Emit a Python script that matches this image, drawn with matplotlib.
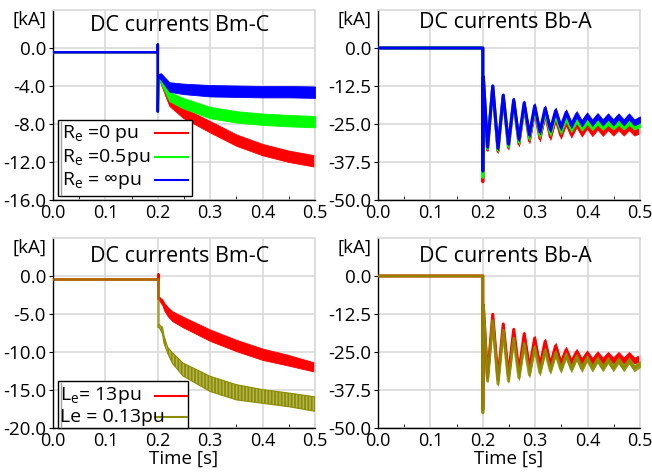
import numpy as np
import matplotlib
matplotlib.use("Agg")
import matplotlib.pyplot as plt
from matplotlib.lines import Line2D
from matplotlib.patches import Rectangle
from matplotlib.ticker import FormatStrFormatter, MultipleLocator

plt.rcParams["font.family"] = ["Open Sans", "DejaVu Sans"]
plt.rcParams["axes.unicode_minus"] = False
plt.rcParams["hatch.linewidth"] = 1.3

# ---- Bm-C, earth resistance cases (top left) ----
# pre-fault level and the spike at the fault instant
pre_t = [0.0, 0.2, 0.2, 0.2, 0.201]
pre_re = [-0.45, -0.45, 0.35, -6.7, -2.9]
# post-fault ripple bands: centre and half width
t_re = [0.201, 0.206, 0.222, 0.248, 0.3, 0.35, 0.4, 0.45, 0.5]
re_inf = [-2.9, -3.0, -4.1, -4.3, -4.5, -4.55, -4.6, -4.6, -4.65]
re_05 = [-2.9, -3.4, -5.1, -5.8, -6.8, -7.25, -7.5, -7.65, -7.75]
re_0 = [-2.9, -3.5, -5.6, -6.8, -8.3, -9.7, -10.7, -11.4, -11.9]
hw_re = [0.15, 0.35, 0.5, 0.55, 0.6, 0.6, 0.6, 0.6, 0.6]

# ---- Bm-C, earth inductance cases (bottom left) ----
pre_le13 = [-0.45, -0.45, 0.2, -2.9, -2.9]
pre_le013 = [-0.45, -0.45, -0.45, -6.6, -6.6]
t_le = [0.201, 0.203, 0.209, 0.212, 0.219, 0.228, 0.248, 0.3, 0.35, 0.4, 0.45, 0.5]
le13 = [-2.9, -3.0, -3.5, -4.0, -4.7, -5.3, -6.05, -7.8, -9.15, -10.3, -11.1, -12.0]
hw_le13 = [0.15, 0.25, 0.4, 0.5, 0.6, 0.65, 0.7, 0.75, 0.75, 0.75, 0.7, 0.6]
le013 = [-6.6, -6.6, -7.2, -8.4, -9.8, -10.8, -12.3, -14.2, -15.3, -15.85, -16.3, -16.85]
hw_le013 = [0.2, 0.2, 0.45, 0.5, 0.4, 0.7, 0.85, 1.0, 1.0, 0.9, 0.9, 0.95]

# ---- Bb-A, peaks and troughs of the oscillation ----
t_bb = [0.0, 0.2, 0.2, 0.201, 0.209, 0.219, 0.229, 0.239, 0.249, 0.259,
        0.269, 0.279, 0.289, 0.299, 0.309, 0.319, 0.329, 0.339, 0.349, 0.359,
        0.369, 0.379, 0.389, 0.399, 0.409, 0.419, 0.429, 0.439, 0.449, 0.459,
        0.469, 0.479, 0.489, 0.5]
bb_inf = [0, 0, -40.5, -9.5, -32.5, -12.5, -33, -15.5, -31.5, -17, -30, -18,
          -28.5, -19, -27.5, -19.8, -26.8, -20.6, -26, -21.2, -25.3, -21.8,
          -24.8, -22.2, -24.6, -22.4, -24.5, -22.5, -24.5, -22.5, -24.5, -22.5,
          -24.5, -23.5]
bb_05 = [0, 0, -42.5, -9.5, -33, -12.5, -33.6, -15.6, -32.3, -17.3, -30.9,
         -18.5, -29.6, -19.8, -28.7, -20.8, -28, -22, -27.3, -23, -26.6, -23.6,
         -26.2, -24, -26, -24.2, -25.9, -24.3, -25.8, -24.3, -25.8, -24.3,
         -25.8, -25]
bb_0 = [0, 0, -44, -9.6, -33.5, -12.6, -34, -15.8, -32.8, -17.6, -31.6, -19,
        -30.5, -20.5, -29.8, -21.5, -29.3, -23, -28.8, -24.3, -28.4, -25,
        -28.1, -25.5, -28, -25.8, -27.9, -26, -27.8, -26, -27.8, -26, -27.8, -27]
bb_le013 = [0, 0, -45, -10, -34.5, -14.7, -35.5, -17.9, -34.5, -20.6, -33.5,
            -22.3, -32.5, -23.5, -31.8, -24.5, -31.2, -25.3, -30.8, -26, -30.6,
            -26.6, -30.5, -27, -30.4, -27.4, -30.3, -27.6, -30.3, -27.7, -30.3,
            -27.8, -30.3, -29]
hw_bb = [0, 0, 0, 0.3, 0.4, 0.4, 0.5, 0.5, 0.6, 0.6, 0.7, 0.7, 0.8, 0.8, 0.9,
         0.9, 0.9, 1.0, 1.0, 1.0, 1.0, 1.0, 1.0, 1.0, 1.0, 1.0, 1.0, 1.0, 1.0,
         1.0, 1.0, 1.0, 1.0, 1.0]

xticks = [0.0, 0.1, 0.2, 0.3, 0.4, 0.5]
yticks_re = [0.0, -4.0, -8.0, -12.0, -16.0]
yticks_le = [0.0, -5.0, -10.0, -15.0, -20.0]
yticks_bb = [0.0, -12.5, -25.0, -37.5, -50.0]

labels_re = [r"R$_\mathregular{e}$ =0 pu", r"R$_\mathregular{e}$ =0.5pu",
             r"R$_\mathregular{e}$ = ∞pu"]
labels_le = [r"L$_\mathregular{e}$= 13pu", "Le = 0.13pu"]

RED, GREEN, BLUE, OLIVE = "#ff0000", "#00ff00", "#0000ff", "#8c8c00"
GRID = "#d9d9d9"

W, H = 652, 475
fig = plt.figure(figsize=(W / 100, H / 100), dpi=100)


def fx(px):
    return px / W


def fy(py):
    return 1 - py / H


def add_ax(left, top, right, bottom):
    return fig.add_axes([fx(left), fy(bottom), (right - left) / W, (bottom - top) / H])


def style(ax, ylim, yticks, title, title_y, xlabel=None):
    ax.set_xlim(0, 0.5)
    ax.set_ylim(*ylim)
    ax.set_xticks(xticks)
    ax.set_yticks(yticks)
    ax.xaxis.set_minor_locator(MultipleLocator(0.05))
    ax.xaxis.set_major_formatter(FormatStrFormatter("%.1f"))
    ax.yaxis.set_major_formatter(FormatStrFormatter("%.1f"))
    ax.grid(True, color=GRID, lw=1.2)
    ax.set_axisbelow(True)
    for s in ("top", "right"):
        ax.spines[s].set_color(GRID)
        ax.spines[s].set_linewidth(1.2)
    for s in ("left", "bottom"):
        ax.spines[s].set_color("black")
        ax.spines[s].set_linewidth(1.0)
    ax.tick_params(axis="y", direction="out", length=3, labelsize=13.5, pad=2)
    ax.tick_params(axis="x", which="major", length=0, labelsize=13, pad=3)
    ax.tick_params(axis="x", which="minor", direction="in", length=3)
    ax.text(0.485, title_y, title, transform=ax.transAxes, ha="center",
            va="center", fontsize=15.5)
    ax.text(-0.023, 0.947, "[kA]", transform=ax.transAxes, ha="right",
            va="center", fontsize=13.5)
    if xlabel:
        ax.set_xlabel(xlabel, fontsize=13.5, labelpad=0)


def band(ax, t, mid, hw, color, z, alpha=1.0, hatch=None):
    mid = np.asarray(mid, float)
    hw = np.asarray(hw, float)
    if hatch:
        ax.fill_between(t, mid - hw, mid + hw, facecolor="#b4b45a",
                        edgecolor=color, hatch=hatch, lw=0.8, zorder=z)
    else:
        ax.fill_between(t, mid - hw, mid + hw, color=color, lw=0.6,
                        zorder=z, alpha=alpha)


def wave(ax, t, v, hw, color, z, alpha=1.0):
    ax.plot(t, v, color=color, lw=2.2, zorder=z, alpha=alpha,
            solid_joinstyle="round")
    band(ax, t, v, hw, color, z, alpha)


def box_legend(box, rows, labels, colors, text_x, line_x):
    left, top, right, bottom = box
    fig.add_artist(Rectangle((fx(left), fy(bottom)), (right - left) / W,
                             (bottom - top) / H, transform=fig.transFigure,
                             facecolor="white", edgecolor="black", lw=1.0,
                             zorder=10))
    fig.add_artist(Line2D([fx(left + 2.5)] * 2, [fy(bottom - 1), fy(top + 2)],
                          color="#a0a0a0", lw=1.0, zorder=11))
    for y, lab, c in zip(rows, labels, colors):
        fig.text(fx(text_x), fy(y), lab, ha="left", va="center",
                 fontsize=14, zorder=12)
        fig.add_artist(Line2D([fx(line_x[0]), fx(line_x[1])], [fy(y), fy(y)],
                              color=c, lw=1.5, zorder=12))


# top left
ax = add_ax(53, 10, 315, 200)
style(ax, (-16, 4), yticks_re, "DC currents Bm-C", 0.92)
for vals, c, z in ((re_0, RED, 2), (re_05, GREEN, 3), (re_inf, BLUE, 4)):
    ax.plot(pre_t, pre_re, color=c, lw=1.8, zorder=z)
    band(ax, t_re, vals, hw_re, c, z)
box_legend((58, 120, 192, 196), (133, 157, 180), labels_re,
           (RED, GREEN, BLUE), 62, (155, 188))

# top right
ax = add_ax(378, 10, 640, 200)
style(ax, (-50, 12.5), yticks_bb, "DC currents Bb-A", 0.935)
wave(ax, t_bb, bb_0, hw_bb, RED, 2)
wave(ax, t_bb, bb_05, hw_bb, GREEN, 3)
wave(ax, t_bb, bb_inf, hw_bb, BLUE, 4)

# bottom left
ax = add_ax(53, 238, 315, 428)
style(ax, (-20, 5), yticks_le, "DC currents Bm-C", 0.9, "Time [s]")
ax.plot(pre_t, pre_le13, color=RED, lw=1.8, zorder=2)
band(ax, t_le, le13, hw_le13, RED, 2)
ax.plot(pre_t, pre_le013, color=OLIVE, lw=1.8, zorder=3, alpha=0.75)
band(ax, t_le, le013, hw_le013, OLIVE, 3, hatch="|||||")
box_legend((58, 381, 188, 428), (396, 417), labels_le, (RED, OLIVE),
           60, (155, 187))

# bottom right
ax = add_ax(378, 238, 640, 428)
style(ax, (-50, 12.5), yticks_bb, "DC currents Bb-A", 0.9, "Time [s]")
wave(ax, t_bb, bb_0, hw_bb, RED, 2)
wave(ax, t_bb, bb_le013, hw_bb, OLIVE, 3, alpha=0.85)

fig.savefig("out.png", dpi=100)
